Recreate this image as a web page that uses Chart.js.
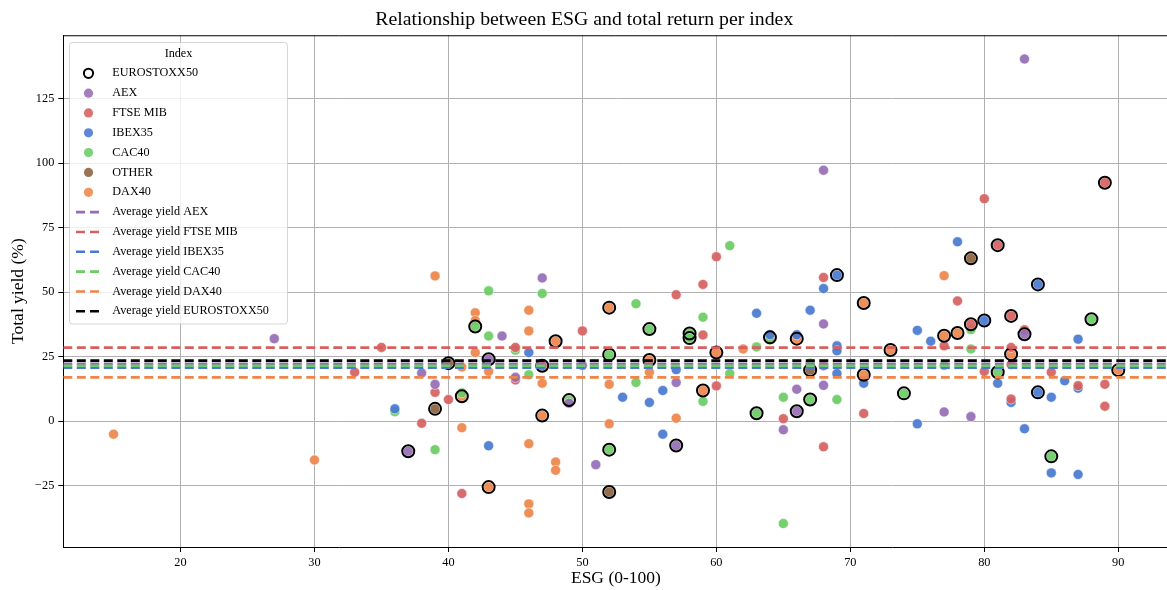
<!DOCTYPE html>
<html>
<head>
<meta charset="utf-8">
<script src="https://cdn.jsdelivr.net/npm/chart.js@4"></script>
<style>
  html, body { margin: 0; padding: 0; background: #fff; overflow: hidden; }
  #wrap { width: 1170px; height: 590px; }
</style>
</head>
<body>
<div id="wrap"><canvas id="chart" width="1170" height="590"></canvas></div>
<script>
// ESG score vs. total yield per company, grouped by home index.
// Each point: [ESG, total yield %, 1 if also an EURO STOXX 50 member].
const aexPoints = [
  [27, 32], [37, -11.6, 1], [38, 18.7], [39, 14.3], [43, 24, 1], [44, 33], [45, 17],
  [47, 55.5], [49, 7], [50, 21.6], [51, -16.8], [57, -9.4, 1], [57, 15], [65, -3.3],
  [66, 12.4], [66, 3.9, 1], [68, 97.2], [68, 37.7], [68, 13.9], [77, 3.6], [79, 1.8],
  [83, 33.7, 1], [83, 140.3]
];
const ftsePoints = [
  [33, 19], [35, 28.6], [38, -0.8], [39, 11.2], [40, 8.4], [41, -28], [45, 28.6], [45, 16],
  [47, 21.5, 1], [50, 35], [57, 49], [59, 53], [59, 33.4], [60, 63.7], [60, 13.7], [65, 1],
  [68, 55.7], [68, 21.5], [68, -9.9], [71, 3], [77, 29.2], [78, 46.6], [79, 37.6, 1],
  [80, 86.2], [80, 19.3], [81, 68.2, 1], [82, 40.8, 1], [82, 28.6], [82, 22], [82, 8.6],
  [83, 35.4], [85, 19], [87, 13.8], [89, 92.4, 1], [89, 14.3], [89, 5.8]
];
const ibexPoints = [
  [36, 4.8], [43, -9.5], [46, 26.6], [53, 9.3], [55, 7.3], [56, 11.9], [56, -5], [57, 20],
  [63, 41.8], [64, 33.5], [66, 33.5], [67, 43], [68, 51.4], [69, 56.6, 1], [69, 29.2],
  [69, 27.3], [69, 18.5], [71, 14.7], [75, 35.2], [75, -1], [76, 31], [78, 69.5],
  [80, 39, 1], [81, 14.7], [82, 7.3], [83, -2.9], [84, 53, 1], [84, 11.2, 1], [85, 9.3],
  [85, -20], [86, 15.7], [87, 31.8], [87, 12.8], [87, -20.6]
];
const cacPoints = [
  [36, 3.7], [39, -11], [41, 11], [42, 36.7, 1], [43, 50.5], [43, 33], [45, 27.5], [46, 18],
  [47, 49.5], [49, 8.2, 1], [52, 25.8, 1], [52, -11, 1], [54, 45.5], [54, 15], [55, 35.7, 1],
  [58, 34, 1], [58, 32.2, 1], [59, 40.3], [59, 7.7], [61, 68], [61, 18.5], [63, 28.8],
  [63, 3.1, 1], [64, 31.5], [65, 9.3], [65, -39.6], [67, 22.5], [67, 8.4, 1], [69, 8.4],
  [74, 10.8, 1], [77, 21.6], [79, 35.5], [79, 28], [81, 19, 1], [85, -13.6, 1], [88, 39.5, 1]
];
const otherPoints = [
  [39, 4.8, 1], [40, 22.5, 1], [52, -27.4, 1], [67, 19.8, 1], [79, 63.1, 1]
];
const daxPoints = [
  [15, -5], [30, -15], [39, 56.3], [41, 21], [41, 9.7, 1], [41, -2.5], [42, 42], [42, 39],
  [42, 26.6], [43, 19.3], [43, -25.5, 1], [46, 43], [46, 35], [46, -8.7], [46, -32],
  [46, -35.5], [47, 14.7], [47, 2.2, 1], [48, 31, 1], [48, -15.8], [48, -19], [52, 44, 1],
  [52, 14.3], [52, -1], [55, 23.7, 1], [55, 19], [57, 1.2], [59, 11.9, 1], [60, 26.6, 1],
  [62, 28], [64, 32.5, 1], [66, 32, 1], [71, 45.8, 1], [71, 18, 1], [73, 27.6, 1],
  [77, 56.4], [77, 33.1, 1], [78, 34.2, 1], [82, 26, 1], [90, 19.8, 1]
];

const indexNames = ['AEX', 'FTSE MIB', 'IBEX35', 'CAC40', 'OTHER', 'DAX40'];
const indexPoints = [aexPoints, ftsePoints, ibexPoints, cacPoints, otherPoints, daxPoints];
const indexColors = ['#956cb4', '#d65f5f', '#4878d0', '#6acc64', '#8c613c', '#ee854a'];

// Horizontal reference lines: mean total yield per index.
const avgNames = ['AEX', 'FTSE MIB', 'IBEX35', 'CAC40', 'DAX40', 'EUROSTOXX50'];
const avgYield = [22.3, 28.5, 20.7, 21.5, 17.0, 23.5];
const avgColors = ['#956cb4', '#d65f5f', '#4878d0', '#6acc64', '#ee854a', '#000000'];

const xTicks = [20, 30, 40, 50, 60, 70, 80, 90];
const yTicks = [-25, 0, 25, 50, 75, 100, 125];
const xMin = 11.25, xMax = 93.75;
const yMin = -48.7, yMax = 149.5;

const SERIF = "'Liberation Serif', 'Times New Roman', serif";

function withAlpha(hex, a) {
  const n = parseInt(hex.slice(1), 16);
  return `rgba(${(n >> 16) & 255},${(n >> 8) & 255},${n & 255},${a})`;
}
const toXY = (p) => ({ x: p[0], y: p[1] });

const datasets = [];
// EURO STOXX 50 members: hollow black ring over the index-coloured point
const euroRing = [];
indexPoints.forEach(arr => arr.forEach(p => { if (p[2]) euroRing.push(toXY(p)); }));
datasets.push({
  label: 'EUROSTOXX50', type: 'scatter', data: euroRing, order: 6,
  legendKind: 'ring',
  pointRadius: 6, pointHoverRadius: 6, pointBorderWidth: 2,
  pointBackgroundColor: 'rgba(0,0,0,0)', pointBorderColor: '#000'
});
indexNames.forEach((name, i) => {
  datasets.push({
    label: name, type: 'scatter', data: indexPoints[i].map(toXY), order: 7 + i,
    legendKind: 'dot', baseColor: indexColors[i],
    pointRadius: 5, pointHoverRadius: 5, pointBorderWidth: 0.6,
    pointBackgroundColor: withAlpha(indexColors[i], 0.92),
    pointBorderColor: 'rgba(255,255,255,0.85)'
  });
});
avgNames.forEach((name, i) => {
  datasets.push({
    label: 'Average yield ' + name, type: 'line', order: 5 - i,
    legendKind: 'line',
    data: [{ x: xMin, y: avgYield[i] }, { x: xMax, y: avgYield[i] }],
    borderColor: avgColors[i], borderWidth: 2.6, borderDash: [9, 4.5],
    pointRadius: 0, fill: false, tension: 0
  });
});

// Legend box drawn inside the plot, top-left
const innerLegend = {
  id: 'innerLegend',
  afterDraw(chart) {
    const ctx = chart.ctx;
    const bx = 69.5, by = 42.5, bw = 218, bh = 281.5, r = 3;
    ctx.save();
    ctx.beginPath();
    ctx.moveTo(bx + r, by);
    ctx.arcTo(bx + bw, by, bx + bw, by + bh, r);
    ctx.arcTo(bx + bw, by + bh, bx, by + bh, r);
    ctx.arcTo(bx, by + bh, bx, by, r);
    ctx.arcTo(bx, by, bx + bw, by, r);
    ctx.closePath();
    ctx.fillStyle = 'rgba(255,255,255,0.8)';
    ctx.fill();
    ctx.strokeStyle = 'rgba(204,204,204,0.8)';
    ctx.lineWidth = 1;
    ctx.stroke();

    ctx.font = `12.2px ${SERIF}`;
    ctx.fillStyle = '#000';
    ctx.textBaseline = 'middle';
    ctx.textAlign = 'center';
    ctx.fillText('Index', bx + bw / 2, 53.5);

    ctx.textAlign = 'left';
    chart.data.datasets.forEach((ds, i) => {
      const y = 73.3 + i * 19.83;
      const mx = 88.5;
      if (ds.legendKind === 'ring') {
        ctx.beginPath();
        ctx.arc(mx, y, 4.6, 0, Math.PI * 2);
        ctx.lineWidth = 2;
        ctx.strokeStyle = '#000';
        ctx.stroke();
      } else if (ds.legendKind === 'dot') {
        ctx.beginPath();
        ctx.arc(mx, y, 4.6, 0, Math.PI * 2);
        ctx.fillStyle = withAlpha(ds.baseColor, 0.88);
        ctx.fill();
      } else {
        ctx.beginPath();
        ctx.setLineDash([9, 5]);
        ctx.moveTo(76, y);
        ctx.lineTo(100.5, y);
        ctx.lineWidth = 2.6;
        ctx.strokeStyle = ds.borderColor;
        ctx.stroke();
        ctx.setLineDash([]);
      }
      ctx.fillStyle = '#000';
      ctx.fillText(ds.label, 112.3, y);
    });
    ctx.restore();
  }
};

// Top and right spines of the axes frame
const frame = {
  id: 'frame',
  afterDatasetsDraw(chart) {
    const { ctx, chartArea: a } = chart;
    ctx.save();
    ctx.strokeStyle = '#000';
    ctx.lineWidth = 1;
    ctx.beginPath();
    ctx.moveTo(a.left, a.top + 0.5);
    ctx.lineTo(a.right, a.top + 0.5);
    ctx.moveTo(a.right - 0.5, a.top);
    ctx.lineTo(a.right - 0.5, a.bottom);
    ctx.stroke();
    ctx.restore();
  }
};

const minusFmt = (v) => (v < 0 ? '\u2212' + Math.abs(v) : String(v));

new Chart(document.getElementById('chart'), {
  type: 'scatter',
  data: { datasets },
  plugins: [frame, innerLegend],
  options: {
    responsive: false,
    animation: false,
    devicePixelRatio: 1,
    layout: { autoPadding: false, padding: { left: 0, right: 1.5, top: 0, bottom: 0 } },
    plugins: {
      legend: { display: false },
      tooltip: { enabled: false },
      title: {
        display: true,
        text: 'Relationship between ESG and total return per index',
        color: '#000',
        font: { family: SERIF, size: 19.8, weight: 'normal' },
        padding: { top: 8, bottom: 3.5 }
      }
    },
    scales: {
      x: {
        type: 'linear', min: xMin, max: xMax,
        afterBuildTicks: (s) => { s.ticks = xTicks.map(v => ({ value: v })); },
        afterFit: (s) => { s.height = 43; },
        ticks: { color: '#000', font: { family: SERIF, size: 12.3 }, padding: 3, callback: minusFmt },
        grid: { color: '#b0b0b0', lineWidth: 1, tickColor: '#000', tickLength: 5, tickWidth: 1 },
        border: { display: true, color: '#000', width: 1 },
        title: {
          display: true, text: 'ESG (0-100)', color: '#000',
          font: { family: SERIF, size: 17.5, weight: 'normal' },
          padding: { top: 0, bottom: 1 }
        }
      },
      y: {
        type: 'linear', min: yMin, max: yMax,
        afterBuildTicks: (s) => { s.ticks = yTicks.map(v => ({ value: v })); },
        afterFit: (s) => { s.width = 63.3; },
        ticks: { color: '#000', font: { family: SERIF, size: 12.3 }, padding: 4, callback: minusFmt },
        grid: { color: '#b0b0b0', lineWidth: 1, tickColor: '#000', tickLength: 5, tickWidth: 1 },
        border: { display: true, color: '#000', width: 1 },
        title: {
          display: true, text: 'Total yield (%)', color: '#000',
          font: { family: SERIF, size: 17.5, weight: 'normal' },
          padding: { top: 8, bottom: 0 }
        }
      }
    }
  }
});
</script>
</body>
</html>
